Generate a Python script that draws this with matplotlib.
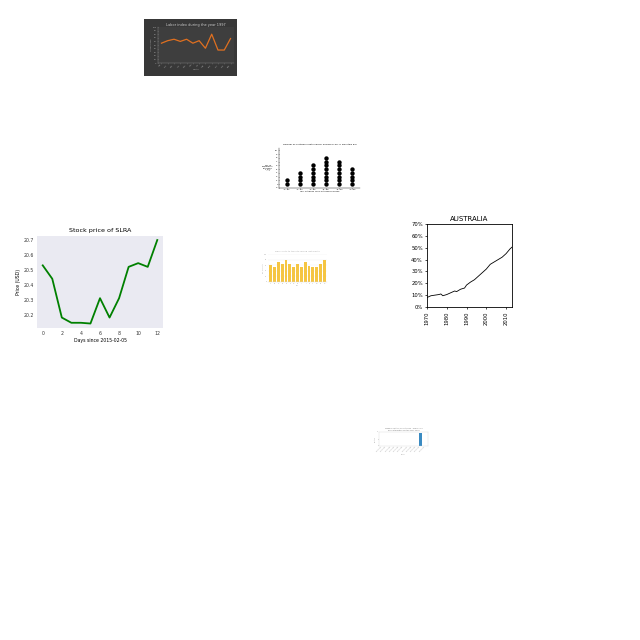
import matplotlib
matplotlib.use("Agg")
import matplotlib.pyplot as plt

# labor index (dark panel)
labor_months = ["Jan", "Feb", "Mar", "Apr", "May", "Jun", "Jul", "Aug", "Sep", "Oct", "Nov", "Dec"]
labor_values = [55, 62, 66, 60, 66, 55, 62, 41, 80, 36, 36, 68]

# dot chart
dot_cats = ["'90-'92", "'92-'94", "'94-'96", "'96-'98", "'98-'00", "'00-'02"]
dot_counts = [2, 4, 6, 8, 7, 5]

# stock price
days = [0, 1, 2, 3, 4, 5, 6, 7, 8, 9, 10, 11, 12]
price = [20.53, 20.44, 20.18, 20.145, 20.145, 20.14, 20.31, 20.18, 20.31, 20.52, 20.545, 20.52, 20.70]

# yellow bars
bar_labels = ["A", "B", "C", "D", "E", "F", "G", "H", "I", "J", "K", "L", "M", "N", "O"]
bar_values = [60, 53, 71, 66, 77, 66, 54, 63, 53, 70, 58, 53, 54, 66, 77]

# australia
aus_years = [1970, 1972, 1974, 1976, 1977, 1978, 1980, 1982, 1984, 1985, 1987, 1989, 1990,
             1992, 1994, 1996, 1998, 2000, 2002, 2004, 2006, 2008, 2010, 2012, 2013]
aus_share = [8, 9.5, 10, 10.5, 11, 9.5, 10.5, 12, 13.5, 13, 15, 16, 18.5,
             21, 23, 26, 29, 32, 36, 38, 40, 42, 45, 49, 50.5]

# tiny weekly chart
week_labels = ["Week 01", "Week 02", "Week 03", "Week 04", "Week 05", "Week 06",
               "Week 07", "Week 08", "Week 09", "Week 10", "Week 11"]
week_values = [0, 0, 0, 0, 0, 0, 0, 0, 0, 9, 0]


def box(l, t, r, b):
    return [l / 640, 1 - b / 640, (r - l) / 640, (b - t) / 640]


fig = plt.figure(figsize=(6.4, 6.4), dpi=100)
fig.patch.set_facecolor("white")

# ---- dark labor chart
bg = fig.add_axes(box(144, 19, 237, 76))
bg.set_facecolor("#383838")
bg.set_xticks([])
bg.set_yticks([])
for s in bg.spines.values():
    s.set_visible(False)
ax1 = fig.add_axes(box(158, 27, 234, 63))
ax1.set_facecolor("#3e3e3e")
ax1.plot(range(len(labor_values)), labor_values, color="#e07020", lw=0.9)
ax1.set_ylim(0, 100)
ax1.set_yticks(range(0, 101, 10))
ax1.set_xticks(range(len(labor_months)))
ax1.set_xticklabels(labor_months, rotation=45, ha="right")
ax1.tick_params(labelsize=1.5, colors="#aaaaaa", length=0.5, width=0.3, pad=0.5)
for s in ax1.spines.values():
    s.set_color("#888888")
    s.set_linewidth(0.3)
ax1.spines["top"].set_visible(False)
ax1.spines["right"].set_visible(False)
ax1.set_title("Labor index during the year 1997", fontsize=2.5, color="#cccccc", pad=1)
ax1.set_ylabel("Labor index", fontsize=1.5, color="#aaaaaa", labelpad=0.5)
ax1.set_xlabel("Month", fontsize=1.5, color="#aaaaaa", labelpad=0.5)

# ---- dot chart
ax2 = fig.add_axes(box(279, 148, 360, 188))
for i, n in enumerate(dot_counts):
    ax2.scatter([i] * n, range(1, n + 1), s=10, color="black", linewidths=0)
ax2.set_xlim(-0.6, len(dot_cats) - 0.4)
ax2.set_ylim(0, 10.6)
ax2.set_yticks(range(0, 11))
ax2.set_xticks(range(len(dot_cats)))
ax2.set_xticklabels(dot_cats)
ax2.tick_params(labelsize=1.5, length=0.5, width=0.3, pad=0.5)
for s in ax2.spines.values():
    s.set_linewidth(0.3)
ax2.spines["top"].set_visible(False)
ax2.spines["right"].set_visible(False)
ax2.set_title("Number of Customers Returned for Buying a Loaf in Mountain Bar", fontsize=1.6, pad=2)
ax2.set_ylabel("No. of\nCustomers\nReturned\n1 dot\n= 1", fontsize=1.5, rotation=0, labelpad=5, va="center")
ax2.set_xlabel("Year between Loafs Returned Per Day", fontsize=1.5, labelpad=0.5)

# ---- stock price
ax3 = fig.add_axes(box(37, 236, 163, 328))
ax3.set_facecolor("#eaeaf2")
ax3.plot(days, price, color="green", lw=1.3)
ax3.set_xlim(-0.6, 12.6)
ax3.set_ylim(20.11, 20.727)
ax3.set_xticks(range(0, 13, 2))
ax3.set_yticks([20.2, 20.3, 20.4, 20.5, 20.6, 20.7])
ax3.tick_params(labelsize=3.3, length=0, pad=2, colors="#333333")
for s in ax3.spines.values():
    s.set_visible(False)
ax3.set_title("Stock price of SLRA", fontsize=4.6, pad=3)
ax3.set_ylabel("Price (USD)", fontsize=3.3, labelpad=2)
ax3.set_xlabel("Days since 2015-02-05", fontsize=3.3, labelpad=1.5)

# ---- yellow bars
ax4 = fig.add_axes(box(268, 254, 327, 282))
ax4.bar(range(len(bar_values)), bar_values, color="#f5c542", width=0.7)
ax4.set_ylim(0, 100)
ax4.set_xlim(-0.7, len(bar_values) - 0.3)
ax4.set_xticks(range(len(bar_labels)))
ax4.set_xticklabels(bar_labels)
ax4.set_yticks(range(0, 101, 20))
ax4.yaxis.grid(True, color="#eeeeee", lw=0.3)
ax4.set_axisbelow(True)
ax4.tick_params(labelsize=1.2, length=0, pad=0.5, colors="#999999")
for s in ax4.spines.values():
    s.set_visible(False)
ax4.spines["bottom"].set_visible(True)
ax4.spines["bottom"].set_color("#dddddd")
ax4.spines["bottom"].set_linewidth(0.3)
ax4.set_title("Daily visits to the site during last month", fontsize=1.6, color="#aaaaaa", pad=1.5)
ax4.set_ylabel("No. of visits", fontsize=1.2, color="#aaaaaa", labelpad=0.5)
ax4.set_xlabel("Day", fontsize=1.2, color="#aaaaaa", labelpad=0.5)

# ---- australia
ax5 = fig.add_axes(box(427, 224, 512, 307))
ax5.plot(aus_years, aus_share, color="black", lw=0.6)
ax5.set_xlim(1970, 2013)
ax5.set_ylim(0, 70)
ax5.set_yticks(range(0, 71, 10))
ax5.set_yticklabels([f"{v}%" for v in range(0, 71, 10)])
ax5.set_xticks([1970, 1980, 1990, 2000, 2010])
ax5.set_xticklabels(["1970", "1980", "1990", "2000", "2010"], rotation=90)
ax5.tick_params(labelsize=3.8, length=1.5, width=0.5, pad=1.5)
for s in ax5.spines.values():
    s.set_linewidth(0.6)
ax5.set_title("AUSTRALIA", fontsize=5, pad=2)

# ---- tiny weekly chart
ax6 = fig.add_axes(box(379, 432, 428, 446))
ax6.bar(range(len(week_values)), week_values, color="#3b8bc2", width=0.5)
ax6.set_ylim(0, 10)
ax6.set_xticks(range(len(week_labels)))
ax6.set_xticklabels(week_labels, rotation=45, ha="right")
ax6.set_yticks([0, 5, 10])
ax6.tick_params(labelsize=1.2, length=0, pad=0.3, colors="#999999")
for s in ax6.spines.values():
    s.set_linewidth(0.2)
    s.set_color("#cccccc")
ax6.set_title("Weekly Visitors Count 2020 - Page 1.10\nand Interaction for the year 2020", fontsize=1.4, color="#777777", pad=1)
ax6.set_ylabel("Visitors", fontsize=1.2, color="#999999", labelpad=0.5)
ax6.set_xlabel("Week", fontsize=1.2, color="#999999", labelpad=1)

fig.savefig("out.png", dpi=100)
